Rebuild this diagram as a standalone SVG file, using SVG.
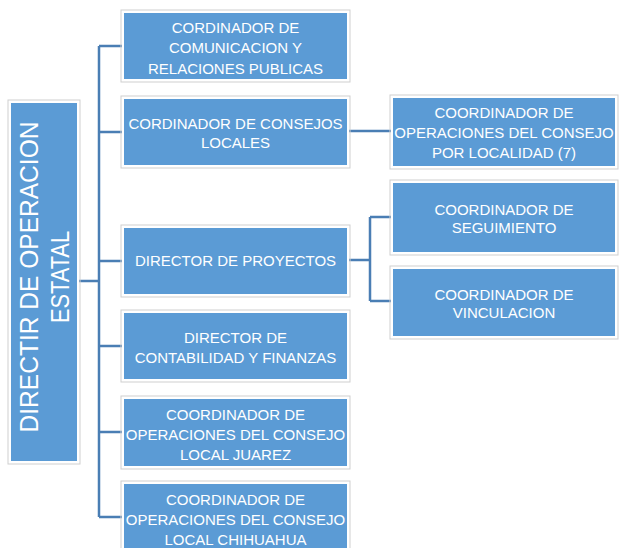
<svg xmlns="http://www.w3.org/2000/svg" width="622" height="548" viewBox="0 0 622 548">
<style>
.box{fill:#5B9BD5;stroke:#ffffff;stroke-width:2}
.frame{fill:none;stroke:#cfcfcf;stroke-width:1}
.t{font-family:"Liberation Sans",Arial,sans-serif;font-size:15px;fill:#ffffff;text-anchor:middle}
.rt{font-family:"Liberation Sans",Arial,sans-serif;font-size:26px;fill:#ffffff;text-anchor:middle}
.c{fill:none;stroke:#4A7EB4;stroke-width:2.5}
</style>
<rect width="622" height="548" fill="#ffffff"/>
<g id="connectors">
<path class="c" d="M78 281H99M99 46V517M99 46H123M99 132H123M99 261H123M99 346H123M99 432H123M99 517H123"/>
<path class="c" d="M348 131H392"/>
<path class="c" d="M348 260H370M370 217V301M370 217H392M370 301H392"/>
</g>
<g id="root">
<rect class="frame" x="8" y="100" width="72" height="364"/>
<rect class="box" x="10" y="102" width="68" height="360"/>
<g transform="translate(44,277) rotate(-90)">
<text class="rt" x="0" y="-6" textLength="311" lengthAdjust="spacingAndGlyphs">DIRECTIR DE OPERACION</text>
<text class="rt" x="0" y="25" textLength="92" lengthAdjust="spacingAndGlyphs">ESTATAL</text>
</g>
</g>
<g id="n1">
<rect class="frame" x="121" y="10" width="229" height="72"/>
<rect class="box" x="123" y="12" width="225" height="68"/>
<text class="t" x="235.5" y="33">CORDINADOR DE</text>
<text class="t" x="235.5" y="53">COMUNICACION Y</text>
<text class="t" x="235.5" y="74">RELACIONES PUBLICAS</text>
</g>
<g id="n2">
<rect class="frame" x="121" y="96" width="229" height="72"/>
<rect class="box" x="123" y="98" width="225" height="68"/>
<text class="t" x="235.5" y="129">CORDINADOR DE CONSEJOS</text>
<text class="t" x="235.5" y="148">LOCALES</text>
</g>
<g id="n3">
<rect class="frame" x="121" y="225" width="229" height="72"/>
<rect class="box" x="123" y="227" width="225" height="68"/>
<text class="t" x="235.5" y="266">DIRECTOR DE PROYECTOS</text>
</g>
<g id="n4">
<rect class="frame" x="121" y="310" width="229" height="72"/>
<rect class="box" x="123" y="312" width="225" height="68"/>
<text class="t" x="235.5" y="343">DIRECTOR DE</text>
<text class="t" x="235.5" y="363">CONTABILIDAD Y FINANZAS</text>
</g>
<g id="n5">
<rect class="frame" x="121" y="396" width="229" height="73"/>
<rect class="box" x="123" y="398" width="225" height="69"/>
<text class="t" x="235.5" y="420">COORDINADOR DE</text>
<text class="t" x="235.5" y="440">OPERACIONES DEL CONSEJO</text>
<text class="t" x="235.5" y="460">LOCAL JUAREZ</text>
</g>
<g id="n6">
<rect class="frame" x="121" y="481" width="229" height="73"/>
<rect class="box" x="123" y="483" width="225" height="69"/>
<text class="t" x="235.5" y="505">COORDINADOR DE</text>
<text class="t" x="235.5" y="525">OPERACIONES DEL CONSEJO</text>
<text class="t" x="235.5" y="545">LOCAL CHIHUAHUA</text>
</g>
<g id="nA">
<rect class="frame" x="390" y="95" width="228" height="74"/>
<rect class="box" x="392" y="97" width="224" height="70"/>
<text class="t" x="504" y="118">COORDINADOR DE</text>
<text class="t" x="504" y="138">OPERACIONES DEL CONSEJO</text>
<text class="t" x="504" y="158">POR LOCALIDAD (7)</text>
</g>
<g id="nB">
<rect class="frame" x="390" y="180" width="228" height="75"/>
<rect class="box" x="392" y="182" width="224" height="71"/>
<text class="t" x="504" y="215">COORDINADOR DE</text>
<text class="t" x="504" y="233">SEGUIMIENTO</text>
</g>
<g id="nC">
<rect class="frame" x="390" y="266" width="228" height="73"/>
<rect class="box" x="392" y="268" width="224" height="69"/>
<text class="t" x="504" y="300">COORDINADOR DE</text>
<text class="t" x="504" y="318">VINCULACION</text>
</g>
</svg>
